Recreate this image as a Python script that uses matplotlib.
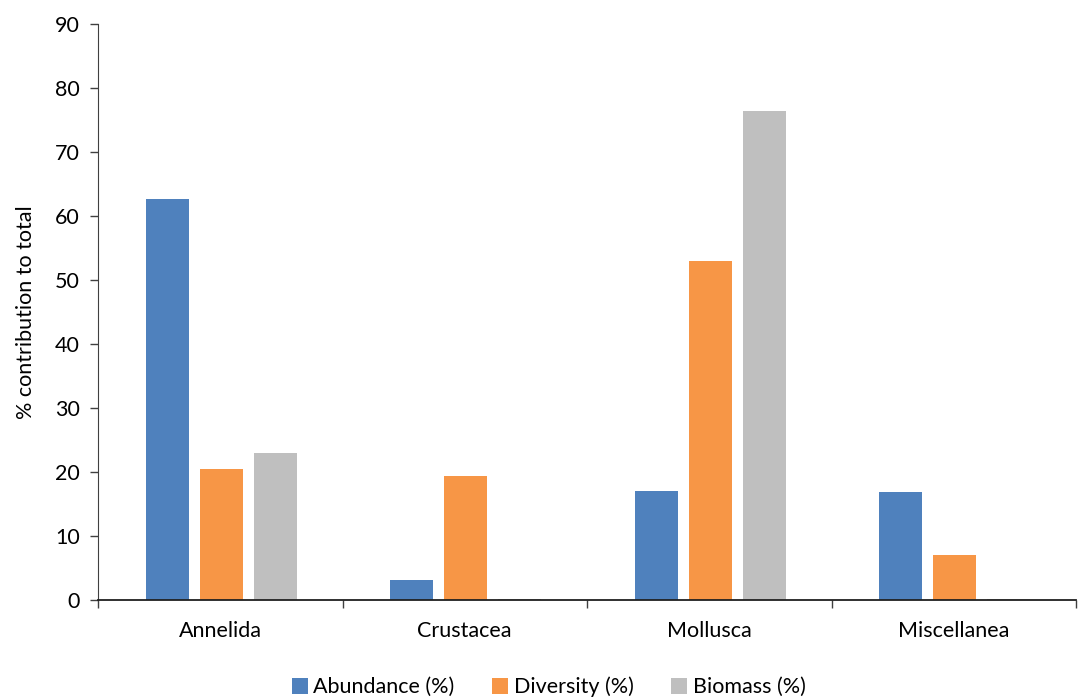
import matplotlib
matplotlib.use("Agg")
import matplotlib.pyplot as plt
import numpy as np

categories = ["Annelida", "Crustacea", "Mollusca", "Miscellanea"]
abundance = [62.7, 3.2, 17.0, 16.9]
diversity = [20.4, 19.4, 53.0, 7.1]
biomass = [23.0, 0.1, 76.4, 0.2]
series_names = ["Abundance (%)", "Diversity (%)", "Biomass (%)"]
y_ticks = [0, 10, 20, 30, 40, 50, 60, 70, 80, 90]

colors = ["#4F81BD", "#F79646", "#BFBFBF"]
plt.rcParams["font.family"] = ["Lato", "DejaVu Sans"]
fs = 15.5

fig = plt.figure(figsize=(10.78, 6.97), dpi=100)
ax = fig.add_axes([98 / 1078, 1 - 600 / 697, (1076 - 98) / 1078, (600 - 24) / 697])

x = np.arange(len(categories))
width = 0.176
step = 0.221
for i, (vals, name) in enumerate(zip([abundance, diversity, biomass], series_names)):
    ax.bar(x + (i - 1) * step + 0.004, vals, width=width, color=colors[i], label=name, zorder=2)

ax.set_xlim(-0.5, len(categories) - 0.5)
ax.set_ylim(0, 90)
ax.set_yticks(y_ticks)
ax.set_xticks(x)
ax.set_xticklabels(categories)
ax.set_xticks(np.arange(-0.5, len(categories), 1.0), minor=True)
ax.tick_params(axis="x", which="major", length=0, pad=15, labelsize=fs)
ax.tick_params(axis="x", which="minor", length=6, width=1, color="#404040", direction="out")
ax.tick_params(axis="y", length=6, width=1, color="#404040", labelsize=fs, pad=7)

for side in ["top", "right"]:
    ax.spines[side].set_visible(False)
ax.spines["left"].set_color("#404040")
ax.spines["bottom"].set_color("#202020")
ax.spines["bottom"].set_linewidth(1.3)

ax.set_ylabel("% contribution to total", fontsize=fs, labelpad=14)

fig.legend(loc="lower center", ncol=3, frameon=False, fontsize=fs,
           bbox_to_anchor=(0.509, -0.028), handlelength=0.75, handleheight=0.75,
           handletextpad=0.25, columnspacing=1.75)

fig.savefig("out.png", dpi=100)
